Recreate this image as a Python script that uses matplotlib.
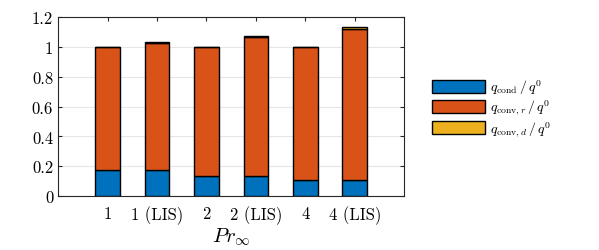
import matplotlib
matplotlib.use("Agg")
import matplotlib.pyplot as plt
import numpy as np
from matplotlib.patches import Patch

# data
cases = ['1', '1 (LIS)', '2', '2 (LIS)', '4', '4 (LIS)']
q_cond = [0.172, 0.172, 0.135, 0.135, 0.106, 0.106]
q_conv_r = [0.828, 0.855, 0.865, 0.930, 0.894, 1.013]
q_conv_d = [0.0, 0.004, 0.0, 0.011, 0.0, 0.013]

plt.rcParams['font.family'] = 'cmr10'
plt.rcParams['mathtext.fontset'] = 'cm'
plt.rcParams['axes.formatter.use_mathtext'] = True

colors = ['#0072BD', '#D95319', '#EDB120']
labels = [r'$q_{\mathrm{cond}}\,/\,q^0$', r'$q_{\mathrm{conv},r}\,/\,q^0$',
          r'$q_{\mathrm{conv},d}\,/\,q^0$']

fig = plt.figure(figsize=(5.99, 2.51), dpi=100)
ax = fig.add_axes([0.097, 0.215, 0.578, 0.713])

x = np.arange(1, len(cases) + 1)
bottom = np.zeros(len(cases))
for vals, c in zip([q_cond, q_conv_r, q_conv_d], colors):
    ax.bar(x, vals, 0.5, bottom=bottom, color=c, edgecolor='black', linewidth=1.0, zorder=3)
    bottom += np.array(vals)

ax.set_xlim(0, 7)
ax.set_ylim(0, 1.2)
ax.set_xticks(x)
ax.set_xticklabels(cases)
ax.set_yticks([0, 0.2, 0.4, 0.6, 0.8, 1.0, 1.2])
ax.set_yticklabels(['0', '0.2', '0.4', '0.6', '0.8', '1', '1.2'])
ax.tick_params(direction='in', top=True, right=True, labelsize=12, length=3, color='#262626')
ax.tick_params(axis='x', pad=7)
ax.yaxis.grid(True, color='#e6e6e6', linewidth=0.8, zorder=0)
ax.set_axisbelow(True)
for s in ax.spines.values():
    s.set_linewidth(0.8)
    s.set_color('#262626')
ax.set_xlabel(r'$Pr_\infty$', fontsize=15, labelpad=1)

handles = [Patch(facecolor=c, edgecolor='black', linewidth=1.0) for c in colors]
fig.legend(handles, labels, loc='center left', bbox_to_anchor=(0.700, 0.565),
           frameon=False, fontsize=10, handlelength=3.8, handleheight=1.05,
           labelspacing=0.12, handletextpad=0.4)

fig.savefig('out.png', dpi=100)
